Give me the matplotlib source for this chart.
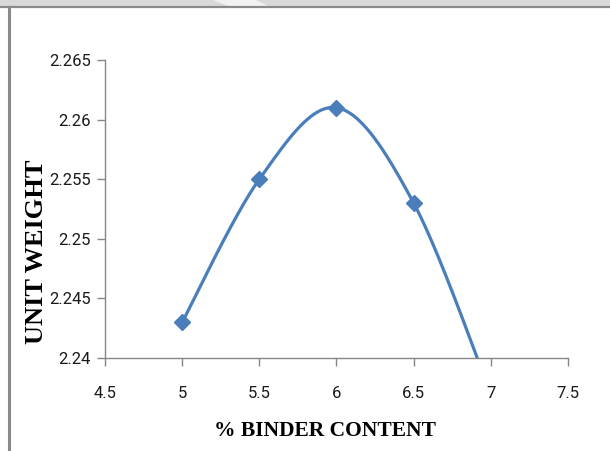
import numpy as np
import matplotlib
matplotlib.use("Agg")
import matplotlib.pyplot as plt
from matplotlib.patches import Polygon, Rectangle
from matplotlib.lines import Line2D

# Binder content (%) vs unit weight
binder = [5, 5.5, 6, 6.5, 7]
unit_weight = [2.243, 2.255, 2.261, 2.253, 2.237]

x_ticks = [4.5, 5, 5.5, 6, 6.5, 7, 7.5]
y_ticks = [2.24, 2.245, 2.25, 2.255, 2.26, 2.265]

blue = "#4a7ebb"
spine_grey = "#868686"


def smooth_curve(xs, ys, n=60):
    # Bezier smoothing through every point (Catmull-Rom style control points)
    px = np.array(xs, dtype=float)
    py = np.array(ys, dtype=float)
    out_x, out_y = [], []
    t = np.linspace(0, 1, n)
    for i in range(len(px) - 1):
        i0 = max(i - 1, 0)
        i3 = min(i + 2, len(px) - 1)
        c1x = px[i] + (px[i + 1] - px[i0]) / 6
        c1y = py[i] + (py[i + 1] - py[i0]) / 6
        c2x = px[i + 1] - (px[i3] - px[i]) / 6
        c2y = py[i + 1] - (py[i3] - py[i]) / 6
        bx = (1 - t) ** 3 * px[i] + 3 * (1 - t) ** 2 * t * c1x + 3 * (1 - t) * t ** 2 * c2x + t ** 3 * px[i + 1]
        by = (1 - t) ** 3 * py[i] + 3 * (1 - t) ** 2 * t * c1y + 3 * (1 - t) * t ** 2 * c2y + t ** 3 * py[i + 1]
        out_x.extend(bx)
        out_y.extend(by)
    return np.array(out_x), np.array(out_y)


fig = plt.figure(figsize=(6.10, 4.51), dpi=100)
W, H = 610, 451

# page edge: grey band on top, grey rule on the left
fig.patches.append(Rectangle((0, 1 - 6 / H), 1, 6 / H, transform=fig.transFigure,
                             facecolor="#d9d9d9", edgecolor="none"))
fig.patches.append(Polygon([(213 / W, 1), (256 / W, 1), (268 / W, 1 - 6 / H), (228 / W, 1 - 6 / H)],
                           closed=True, transform=fig.transFigure, facecolor="#f2f2f2", edgecolor="none"))
fig.lines.append(Line2D([0, 1], [1 - 6.5 / H, 1 - 6.5 / H], transform=fig.transFigure,
                        color="#8a8a8a", lw=1.6))
fig.lines.append(Line2D([8.5 / W, 8.5 / W], [0, 1 - 6.5 / H], transform=fig.transFigure,
                        color="#8a8a8a", lw=2.2))

ax = fig.add_axes([105 / W, (H - 358) / H, (568 - 105) / W, (358 - 60) / H])

sx, sy = smooth_curve(binder, unit_weight)
ax.plot(sx, sy, color=blue, lw=2.3, solid_capstyle="butt")
ax.plot(binder, unit_weight, linestyle="none", marker="D", markersize=8,
        color=blue, markeredgecolor=blue)

ax.set_xlim(4.5, 7.5)
ax.set_ylim(2.24, 2.265)
ax.set_xticks(x_ticks)
ax.set_xticklabels([f"{v:g}" for v in x_ticks])
ax.set_yticks(y_ticks)
ax.set_yticklabels([f"{v:g}" for v in y_ticks])

for side in ["top", "right"]:
    ax.spines[side].set_visible(False)
for side in ["left", "bottom"]:
    ax.spines[side].set_color(spine_grey)
    ax.spines[side].set_linewidth(1.0)

ax.tick_params(axis="both", direction="out", length=6, color=spine_grey, width=1.0)
ax.tick_params(axis="x", pad=14)
ax.tick_params(axis="y", pad=4)
for lab in ax.get_xticklabels() + ax.get_yticklabels():
    lab.set_fontfamily(["Roboto", "DejaVu Sans"])
    lab.set_fontsize(12)
    lab.set_color("#1a1a1a")

fig.text(325 / W, 1 - 431 / H, "% BINDER CONTENT", ha="center", va="center",
         family="Liberation Serif", weight="bold", size=15.5)
fig.text(37 / W, 1 - 252 / H, "UNIT WEIGHT", ha="center", va="center", rotation=90,
         family="Liberation Serif", weight="bold", size=19)

fig.savefig("out.png", dpi=100)
